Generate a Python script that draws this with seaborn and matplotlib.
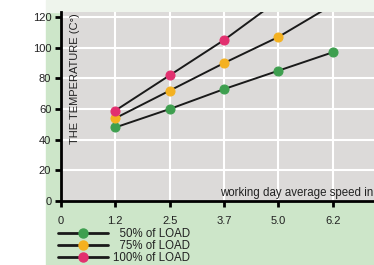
import matplotlib
matplotlib.use("Agg")
import matplotlib.pyplot as plt
import matplotlib.patches as mpatches
import seaborn as sns
import pandas as pd

speeds = ["0", "1.2", "2.5", "3.7", "5.0", "6.2"]
speed_idx = [1, 2, 3, 4, 5]
load50 = [48, 60, 73, 85, 97]
load75 = [54, 72, 90, 107, 128]
load100 = [59, 82, 105, 131, 157]
series_names = ["50% of LOAD", "75% of LOAD", "100% of LOAD"]
series_colors = ["#3e9f4f", "#f4b120", "#e2306f"]
y_ticks = [0, 20, 40, 60, 80, 100, 120]

rows = []
for name, vals in zip(series_names, [load50, load75, load100]):
    for x, v in zip(speed_idx, vals):
        rows.append({"x": x, "temp": v, "series": name})
df = pd.DataFrame(rows)

sns.set_theme(style="white")
plt.rcParams["font.family"] = ["Liberation Sans", "DejaVu Sans"]

fig = plt.figure(figsize=(3.74, 2.65), dpi=100)
fig.patch.set_facecolor("white")
W, H = 374, 265
# green background panel and light top strip
fig.patches.append(mpatches.Rectangle((46 / W, 0), 1 - 46 / W, 1 - 12 / H,
                                      transform=fig.transFigure, color="#cde6c9", zorder=-5))
fig.patches.append(mpatches.Rectangle((46 / W, 1 - 12 / H), 1 - 46 / W, 12 / H,
                                      transform=fig.transFigure, color="#eef4ec", zorder=-5))

ax = fig.add_axes([61 / W, 1 - 201 / H, 1 - 61 / W, (201 - 12) / H])
ax.set_zorder(1)
ax.set_facecolor("#dcdad9")

for name, color in zip(series_names, series_colors):
    sub = df[df["series"] == name]
    sns.lineplot(data=sub, x="x", y="temp", ax=ax, color="#1a1a1a", lw=1.4,
                 marker="o", markersize=6.5, markerfacecolor=color,
                 markeredgecolor=color, label=name, legend=False)

ax.set_xlim(0, 5.76)
ax.set_ylim(0, 123.3)
ax.set_xticks(range(len(speeds)))
ax.set_xticklabels(speeds)
ax.set_yticks(y_ticks)
ax.grid(True, color="white", lw=1.5)
ax.set_axisbelow(True)
for s in ["top", "right"]:
    ax.spines[s].set_visible(False)
for s in ["left", "bottom"]:
    ax.spines[s].set_color("black")
    ax.spines[s].set_linewidth(2)
ax.tick_params(axis="both", direction="out", length=4, width=2, color="black",
               labelsize=8, labelcolor="#222222", pad=3, bottom=True, left=True)
ax.tick_params(axis="x", pad=7)
ax.set_xlabel("")
ax.set_ylabel("")
ax.text(0.03, 0.995, "THE TEMPERATURE (C°)", transform=ax.transAxes, rotation=90,
        ha="left", va="top", fontsize=8, color="#222222")
ax.text(2.93, 1.5, "working day average speed in mph", ha="left", va="bottom",
        fontsize=8.3, color="#222222", clip_on=True)

handles = [plt.Line2D([], [], color="#1a1a1a", lw=2, marker="o", markersize=6.5,
                      markerfacecolor=c, markeredgecolor=c) for c in series_colors]
labels = ["  " + n if n.startswith(("5", "7")) else n for n in series_names]
leg = fig.legend(handles, labels, loc="upper left", bbox_to_anchor=(58 / W, 1 - 228 / H),
                 frameon=False, fontsize=8.3, handlelength=4.3, handletextpad=0.5,
                 labelspacing=0.02, borderpad=0, borderaxespad=0)
leg.set_zorder(2)
for t in leg.get_texts():
    t.set_color("#222222")

fig.savefig("out.png", dpi=100, facecolor=fig.get_facecolor())
